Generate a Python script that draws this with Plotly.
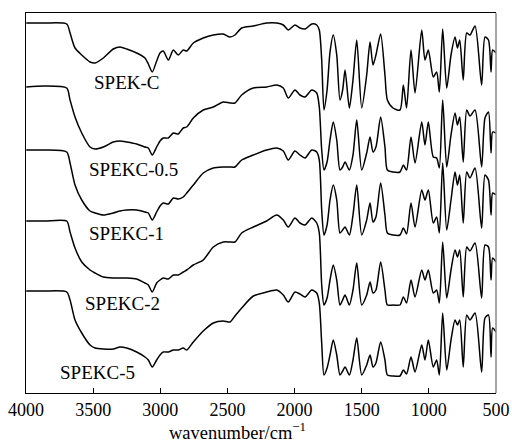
import plotly.graph_objects as go

wavenumber = [3998, 3860, 3697, 3672, 3635, 3585, 3523, 3486, 3424, 3350,
              3300, 3250, 3176, 3114, 3089, 3060, 3027, 3002, 2978, 2940,
              2903, 2866, 2829, 2803, 2754, 2680, 2605, 2531, 2481, 2444,
              2394, 2307, 2208, 2133, 2084, 2047, 1997, 1960, 1922, 1872,
              1835, 1816, 1798, 1781, 1758, 1736, 1712, 1686, 1662, 1642,
              1624, 1592, 1565, 1537, 1500, 1463, 1438, 1416, 1394, 1359,
              1327, 1309, 1267, 1215, 1190, 1166, 1133, 1103, 1053, 1029,
              1004, 967, 942, 922, 897, 867, 835, 805, 787, 770,
              744, 718, 694, 656, 607, 582, 556, 537, 525, 500]

spek_c = [370, 370, 369, 360, 345, 338, 331, 330, 335, 344,
          346, 344, 340, 335, 329, 321, 332, 340, 342, 333,
          343, 338, 343, 342, 350, 355, 358, 359, 356, 358,
          365, 367, 370, 370, 368, 363, 368, 365, 364, 369,
          368, 363, 333, 283, 303, 341, 358, 338, 293, 303,
          323, 285, 313, 353, 285, 318, 351, 328, 338, 359,
          318, 293, 285, 283, 308, 285, 343, 300, 363, 333,
          343, 316, 321, 301, 364, 305, 338, 356, 345, 353,
          313, 360, 358, 367, 308, 356, 353, 321, 343, 340]

spekc_05 = [306, 307, 305, 293, 276, 260, 246, 244, 246, 251,
            252, 251, 249, 246, 245, 238, 246, 252, 255, 255,
            260, 259, 265, 266, 275, 283, 286, 291, 290, 290,
            298, 305, 306, 308, 305, 295, 303, 298, 296, 303,
            300, 286, 243, 223, 231, 253, 271, 253, 223, 226,
            231, 223, 238, 273, 223, 240, 256, 241, 246, 276,
            246, 223, 221, 221, 228, 223, 256, 230, 271, 248,
            271, 236, 235, 225, 293, 226, 258, 280, 268, 276,
            231, 283, 277, 283, 226, 275, 281, 240, 261, 260]

spekc_1 = [243, 243, 241, 230, 208, 193, 182, 180, 178, 180,
           182, 183, 183, 181, 180, 173, 181, 187, 190, 189,
           195, 194, 196, 200, 208, 220, 225, 226, 226, 226,
           233, 238, 243, 245, 242, 233, 242, 238, 235, 243,
           241, 233, 183, 158, 168, 193, 208, 193, 160, 163,
           166, 158, 178, 208, 158, 173, 190, 171, 176, 210,
           178, 160, 158, 158, 165, 159, 190, 166, 203, 193,
           203, 170, 176, 160, 230, 163, 193, 221, 208, 218,
           170, 221, 215, 225, 165, 218, 213, 178, 200, 198]

spekc_2 = [172, 172, 172, 161, 145, 131, 123, 120, 116, 115,
           115, 115, 114, 110, 108, 101, 110, 113, 115, 114,
           118, 118, 121, 123, 128, 133, 146, 151, 151, 151,
           160, 166, 172, 178, 173, 166, 175, 170, 168, 175,
           170, 160, 108, 88, 95, 113, 128, 113, 88, 93,
           98, 88, 103, 130, 88, 98, 111, 100, 103, 131,
           103, 88, 88, 88, 96, 90, 113, 96, 123, 113,
           123, 100, 103, 90, 151, 95, 123, 143, 136, 143,
           96, 146, 142, 150, 95, 148, 146, 113, 135, 131]

spekc_5 = [102, 102, 101, 93, 73, 60, 48, 45, 44, 44,
           46, 45, 41, 36, 33, 26, 33, 38, 41, 41,
           43, 43, 45, 43, 51, 62, 70, 72, 71, 77,
           85, 97, 101, 103, 98, 91, 101, 99, 96, 103,
           100, 90, 50, 18, 25, 38, 53, 38, 18, 22,
           26, 18, 33, 55, 18, 28, 38, 26, 30, 51,
           33, 18, 17, 17, 23, 19, 36, 21, 48, 33,
           53, 26, 33, 18, 80, 23, 53, 73, 68, 73,
           26, 78, 73, 80, 21, 75, 78, 36, 65, 61]

series_names = ["SPEK-C", "SPEKC-0.5", "SPEKC-1", "SPEKC-2", "SPEKC-5"]
series_values = [spek_c, spekc_05, spekc_1, spekc_2, spekc_5]
label_x = [3248, 3196, 3255, 3285, 3471]
label_y = [311, 224, 160, 90, 21]

x_ticks = [4000, 3500, 3000, 2500, 2000, 1500, 1000, 500]

fig = go.Figure()
for name, vals in zip(series_names, series_values):
    assert len(vals) == len(wavenumber)
    fig.add_trace(go.Scatter(x=wavenumber, y=vals, mode="lines", name=name,
                             line=dict(color="black", width=1.5, shape="spline", smoothing=0.7),
                             showlegend=False, hoverinfo="skip"))

for name, lx, ly in zip(series_names, label_x, label_y):
    fig.add_annotation(x=lx, y=ly, text=name, showarrow=False,
                       font=dict(family="Liberation Serif", size=19, color="black"))

fig.add_annotation(x=0.45, y=-0.1, xref="paper", yref="paper", yanchor="middle",
                   text="wavenumber/cm<sup>−1</sup>", showarrow=False,
                   font=dict(family="Liberation Serif", size=18.5, color="black"))

fig.add_shape(type="line", xref="paper", yref="paper", x0=1, x1=1, y0=0, y1=1,
              line=dict(color="#8a8a8a", width=1.5))

fig.update_layout(
    width=512, height=446,
    margin=dict(l=26, r=16, t=13, b=53, autoexpand=False),
    paper_bgcolor="white", plot_bgcolor="white",
    font=dict(family="Liberation Serif", size=18, color="black"),
    xaxis=dict(range=[4000, 500], tickvals=x_ticks, ticks="inside", ticklen=5,
               tickwidth=1, tickcolor="black", showline=True, linecolor="black",
               linewidth=1, mirror=True, showgrid=False, zeroline=False,
               automargin=False,
               tickfont=dict(family="Liberation Serif", size=18)),
    yaxis=dict(range=[0, 380], showticklabels=False, ticks="", showline=True,
               linecolor="black", linewidth=1, showgrid=False, zeroline=False,
               automargin=False),
)

fig.write_html("out.html", config={"displayModeBar": False},
               post_script="document.body.style.margin='0';document.body.style.overflow='hidden';")
